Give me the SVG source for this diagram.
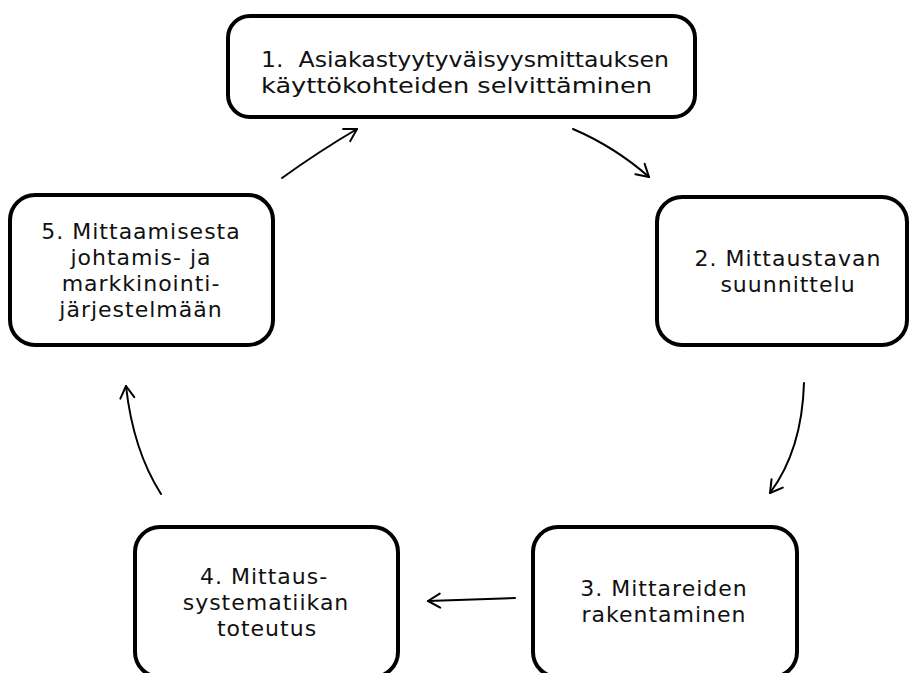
<svg xmlns="http://www.w3.org/2000/svg" width="910" height="673" viewBox="0 0 910 673">
<defs>
<style>
.box{fill:#fff;stroke:#000;stroke-width:4}
.t{font-family:"DejaVu Sans","Liberation Sans",sans-serif;font-size:22px;letter-spacing:1px;fill:#111;text-anchor:middle}
.ts{font-family:"DejaVu Sans","Liberation Sans",sans-serif;font-size:22px;fill:#111;text-anchor:start}
.c{fill:none;stroke:#000;stroke-width:2;stroke-linecap:round}
</style>
<marker id="ah" markerUnits="userSpaceOnUse" markerWidth="20" markerHeight="20" viewBox="0 0 20 20" refX="16" refY="10" orient="auto">
<path d="M4,3 L16,10 L4,17" fill="none" stroke="#000" stroke-width="2" stroke-linecap="round" stroke-linejoin="round"/>
</marker>
</defs>
<rect width="910" height="673" fill="#fff"/>
<g id="connectors">
<path class="c" d="M282,178 Q318,152 357,129" marker-end="url(#ah)"/>
<path class="c" d="M573,129 Q615,147 649,177" marker-end="url(#ah)"/>
<path class="c" d="M804,383 Q802,450 770,493" marker-end="url(#ah)"/>
<path class="c" d="M515,598 L428,601" marker-end="url(#ah)"/>
<path class="c" d="M161,494 Q133,450 126,386" marker-end="url(#ah)"/>
</g>
<g id="node1">
<rect class="box" x="228" y="16" width="467" height="101" rx="22"/>
<text class="ts" x="261" y="67" textLength="408" lengthAdjust="spacingAndGlyphs" xml:space="preserve">1.  Asiakastyytyväisyysmittauksen</text>
<text class="ts" x="261" y="93" textLength="391" lengthAdjust="spacingAndGlyphs">käyttökohteiden selvittäminen</text>
</g>
<g id="node2">
<rect class="box" x="657" y="197" width="250" height="148" rx="25"/>
<text class="t" x="788" y="266">2. Mittaustavan</text>
<text class="t" x="788" y="292">suunnittelu</text>
</g>
<g id="node3">
<rect class="box" x="533" y="527" width="264" height="150" rx="25"/>
<text class="t" x="664" y="596">3. Mittareiden</text>
<text class="t" x="664" y="622">rakentaminen</text>
</g>
<g id="node4">
<rect class="box" x="135" y="527" width="263" height="150" rx="25"/>
<text class="t" x="264" y="584">4. Mittaus-</text>
<text class="t" x="266" y="610">systematiikan</text>
<text class="t" x="267" y="636">toteutus</text>
</g>
<g id="node5">
<rect class="box" x="10" y="195" width="263" height="150" rx="25"/>
<text class="t" x="141" y="239">5. Mittaamisesta</text>
<text class="t" x="141" y="265">johtamis- ja</text>
<text class="t" x="141" y="291">markkinointi-</text>
<text class="t" x="141" y="317">järjestelmään</text>
</g>
</svg>
